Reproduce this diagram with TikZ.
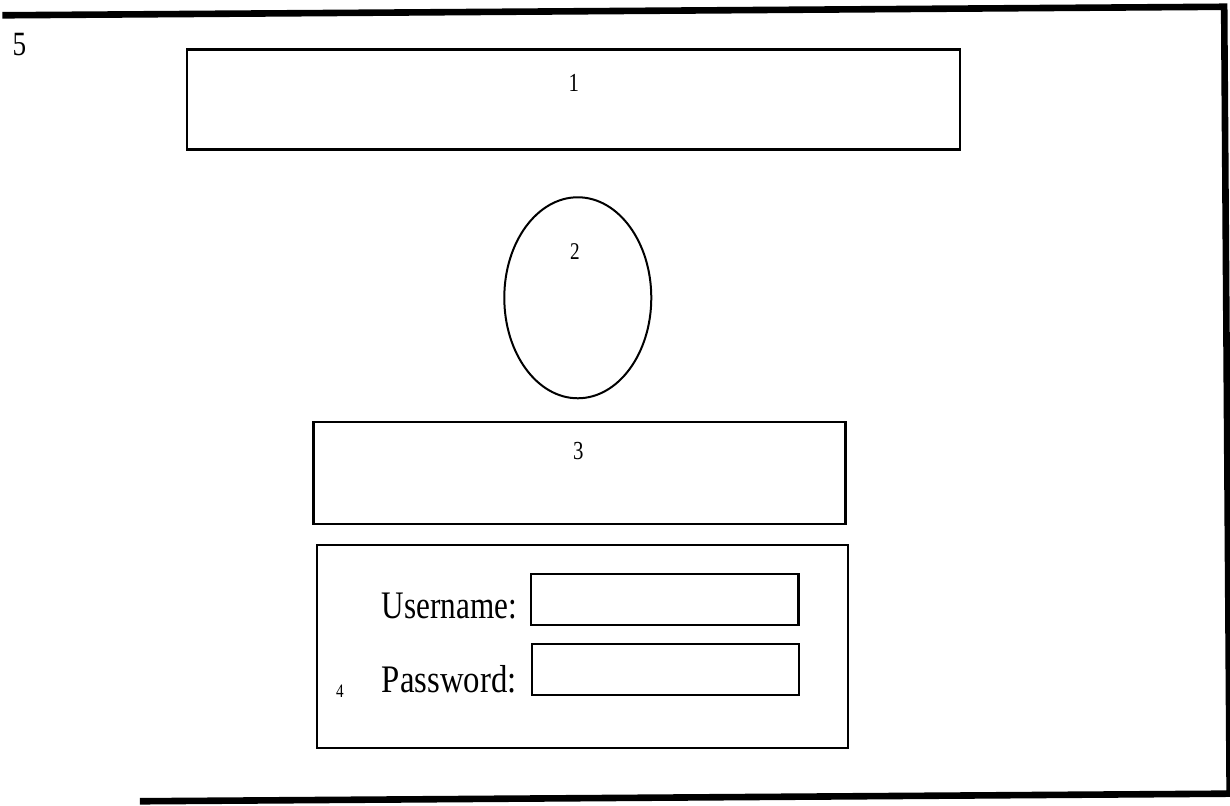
\documentclass[tikz,border=0pt]{standalone}
\usepackage{fontspec}
\setmainfont{Liberation Serif}
\usetikzlibrary{shapes.geometric}
\begin{document}
\begin{tikzpicture}[x=0.5pt,y=-0.5pt,
  panel/.style={draw, line width=1.2pt, rectangle, inner sep=0pt},
  field/.style={draw, line width=1.1pt, rectangle, inner sep=0pt,
                minimum width=133.5pt, minimum height=25.5pt},
  num/.style={inner sep=0pt, font=\fontsize{13}{15}\selectfont, xscale=0.8},
  caption/.style={inner sep=0pt, anchor=east,
                  font=\fontsize{19.5}{23}\selectfont, xscale=0.8},
  rule/.style={line width=3.3pt, line join=miter}]
\useasboundingbox (0,0) rectangle (1230,805);
\begin{scope}[rotate around={0.4:(615,400)}]
  % page frame
  \coordinate (ftl) at (5,11);
  \coordinate (ftr) at (1227,11);
  \coordinate (fbr) at (1227,798);
  \coordinate (fbl) at (137,798);
  \draw[rule] (ftl) -- (ftr) -- (fbr) -- (fbl);
  \node[inner sep=0pt, font=\fontsize{17}{19}\selectfont, xscale=0.8] (n5) at (22,40) {5};

  % header banner
  \node[panel, minimum width=386.5pt, minimum height=50pt] (banner) at (575.5,99) {};
  \node[num] (n1) at (576,83) {1};

  % logo ellipse
  \node[draw, ellipse, line width=1pt, inner sep=0pt,
        minimum width=73.5pt, minimum height=100.5pt] (logo) at (578.5,297.5) {};
  \node[num, font=\fontsize{12}{14}\selectfont] (n2) at (576,251) {2};

  % message panel
  \node[panel, minimum width=266pt, minimum height=51pt] (msg) at (579,473) {};
  \node[num] (n3) at (578,451) {3};

  % login panel
  \node[panel, minimum width=265.5pt, minimum height=101.5pt] (login) at (580.5,646.5) {};
  \node[field] (userbox) at (663.5,599.5) {};
  \node[field] (passbox) at (663.5,670) {};
  \node[caption] (userlbl) at (516,605) {Username:};
  \node[caption, xscale=1.05] (passlbl) at (515,678.5) {Password:};
  \node[num, font=\fontsize{9.5}{11}\selectfont] (n4) at (338,689) {4};
\end{scope}
\end{tikzpicture}
\end{document}
